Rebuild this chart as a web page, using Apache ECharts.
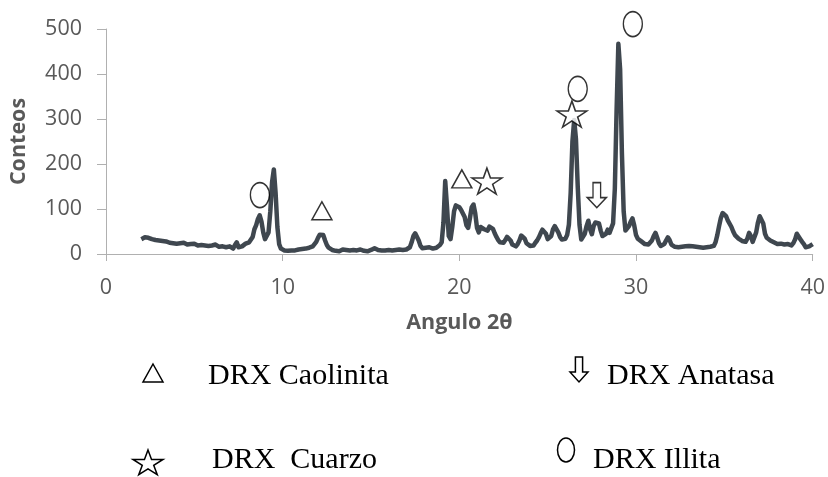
<!DOCTYPE html>
<html>
<head>
<meta charset="utf-8">
<script src="https://cdn.jsdelivr.net/npm/echarts@6/dist/echarts.min.js"></script>
<style>
html,body{margin:0;padding:0;background:#fff;}
#chart{width:828px;height:477px;}
</style>
</head>
<body>
<div id="chart"></div>
<script>
// ---- data ----
const xTicks = [0, 10, 20, 30, 40];
const yTicks = [0, 100, 200, 300, 400, 500];
const xAxisTitle = 'Angulo 2θ';
const yAxisTitle = 'Conteos';

// [2θ, counts]
const pattern = [
[2.0,33],[2.1,30],[2.2,37],[2.3,41],[2.4,36],[2.5,32],[2.6,33],[2.7,29],[2.8,31],[2.9,27],
[3.0,30],[3.1,28],[3.2,29],[3.3,26],[3.4,28],[3.5,27],[3.6,25],[3.7,28],[3.8,24],[3.9,26],
[4.0,23],[4.1,26],[4.2,24],[4.3,22],[4.4,25],[4.5,23],[4.6,21],[4.7,24],[4.8,22],[4.9,20],
[5.0,23],[5.1,21],[5.2,19],[5.3,22],[5.4,20],[5.5,24],[5.6,19],[5.7,21],[5.8,18],[5.9,22],
[6.0,19],[6.1,17],[6.2,21],[6.3,18],[6.4,16],[6.5,20],[6.6,17],[6.7,19],[6.8,15],[6.9,18],
[7.0,17],[7.1,14],[7.2,12],[7.3,20],[7.4,26],[7.5,15],[7.6,18],[7.7,17],[7.8,20],[7.9,23],
[8.0,25],[8.1,26],[8.2,29],[8.3,38],[8.4,55],[8.5,64],[8.6,78],[8.7,86],[8.8,72],[8.9,48],
[9.0,33],[9.1,35],[9.2,48],[9.3,95],[9.4,160],[9.5,188],[9.6,135],[9.7,60],[9.8,22],[9.9,12],
[10.0,9],[10.1,8],[10.2,10],[10.3,7],[10.4,9],[10.5,8],[10.6,11],[10.7,8],[10.8,9],[10.9,10],
[11.0,8],[11.1,11],[11.2,9],[11.3,12],[11.4,10],[11.5,14],[11.6,15],[11.7,17],[11.8,20],[11.9,27],
[12.0,36],[12.1,43],[12.2,47],[12.3,42],[12.4,30],[12.5,20],[12.6,14],[12.7,11],[12.8,9],[12.9,8],
[13.0,7],[13.1,9],[13.2,6],[13.3,8],[13.4,10],[13.5,7],[13.6,9],[13.7,6],[13.8,8],[13.9,7],
[14.0,9],[14.1,6],[14.2,8],[14.3,7],[14.4,10],[14.5,8],[14.6,7],[14.7,9],[14.8,6],[14.9,8],
[15.0,9],[15.1,11],[15.2,13],[15.3,12],[15.4,9],[15.5,7],[15.6,8],[15.7,6],[15.8,8],[15.9,7],
[16.0,9],[16.1,7],[16.2,8],[16.3,6],[16.4,9],[16.5,8],[16.6,10],[16.7,7],[16.8,9],[16.9,8],
[17.0,10],[17.1,12],[17.2,15],[17.3,26],[17.4,40],[17.5,46],[17.6,42],[17.7,30],[17.8,18],[17.9,13],
[18.0,12],[18.1,14],[18.2,11],[18.3,15],[18.4,13],[18.5,12],[18.6,16],[18.7,14],[18.8,17],[18.9,20],
[19.0,26],[19.1,70],[19.2,162],[19.3,105],[19.4,40],[19.5,33],[19.6,60],[19.7,95],[19.8,108],[19.9,110],
[20.0,104],[20.1,98],[20.2,100],[20.3,82],[20.4,64],[20.5,58],[20.6,80],[20.7,104],[20.8,110],[20.9,90],
[21.0,58],[21.1,48],[21.2,60],[21.3,63],[21.4,55],[21.5,59],[21.6,52],[21.7,61],[21.8,63],[21.9,56],
[22.0,46],[22.1,38],[22.2,31],[22.3,26],[22.4,22],[22.5,25],[22.6,31],[22.7,38],[22.8,41],[22.9,30],
[23.0,21],[23.1,19],[23.2,17],[23.3,22],[23.4,30],[23.5,41],[23.6,45],[23.7,34],[23.8,24],[23.9,20],
[24.0,18],[24.1,21],[24.2,19],[24.3,25],[24.4,30],[24.5,37],[24.6,46],[24.7,54],[24.8,56],[24.9,45],
[25.0,33],[25.1,30],[25.2,40],[25.3,55],[25.4,62],[25.5,60],[25.6,48],[25.7,38],[25.8,32],[25.9,30],
[26.0,34],[26.1,42],[26.2,65],[26.3,135],[26.4,250],[26.5,298],[26.6,255],[26.7,150],[26.8,65],[26.9,32],
[27.0,28],[27.1,45],[27.2,62],[27.3,74],[27.4,55],[27.5,44],[27.6,62],[27.7,70],[27.8,73],[27.9,68],
[28.0,52],[28.1,40],[28.2,37],[28.3,45],[28.4,54],[28.5,47],[28.6,50],[28.7,68],[28.8,145],[28.9,320],
[29.0,467],[29.1,410],[29.2,225],[29.3,95],[29.4,52],[29.5,50],[29.6,62],[29.7,72],[29.8,79],[29.9,63],
[30.0,42],[30.1,34],[30.2,30],[30.3,28],[30.4,26],[30.5,22],[30.6,24],[30.7,21],[30.8,25],[30.9,30],
[31.0,40],[31.1,47],[31.2,36],[31.3,24],[31.4,18],[31.5,19],[31.6,22],[31.7,30],[31.8,37],[31.9,31],
[32.0,21],[32.1,17],[32.2,16],[32.3,18],[32.4,15],[32.5,19],[32.6,16],[32.7,14],[32.8,17],[32.9,16],
[33.0,18],[33.1,15],[33.2,17],[33.3,14],[33.4,16],[33.5,18],[33.6,15],[33.7,17],[33.8,14],[33.9,16],
[34.0,15],[34.1,17],[34.2,16],[34.3,14],[34.4,18],[34.5,26],[34.6,42],[34.7,62],[34.8,80],[34.9,91],
[35.0,94],[35.1,84],[35.2,74],[35.3,71],[35.4,60],[35.5,50],[35.6,42],[35.7,38],[35.8,34],[35.9,31],
[36.0,29],[36.1,28],[36.2,27],[36.3,34],[36.4,47],[36.5,40],[36.6,27],[36.7,31],[36.8,48],[36.9,70],
[37.0,84],[37.1,86],[37.2,68],[37.3,45],[37.4,36],[37.5,33],[37.6,30],[37.7,28],[37.8,26],[37.9,24],
[38.0,22],[38.1,20],[38.2,23],[38.3,19],[38.4,21],[38.5,18],[38.6,22],[38.7,20],[38.8,19],[38.9,24],
[39.0,32],[39.1,45],[39.2,42],[39.3,33],[39.4,27],[39.5,22],[39.6,15],[39.7,12],[39.8,17],[39.9,21],
[40.0,22]
];

// peak identification marks [2θ, counts]
const caolinitaMarks = [[12.22, 96], [20.14, 167]];
const cuarzoMarks    = [[21.56, 162], [26.37, 311]];
const anatasaMarks   = [[27.78, 131]];
const illitaMarks    = [[8.71, 131], [26.70, 367], [29.82, 511]];

const legendLabels = ['DRX Caolinita', 'DRX Anatasa', 'DRX  Cuarzo', 'DRX Illita'];

// ---- chart ----
const STAR_PTS = [[50,0],[61.8,36.3],[100,36.3],[69.1,58.8],[80.9,95.1],[50,72.6],[19.1,95.1],[30.9,58.8],[0,36.3],[38.2,36.3]];
const ARROW_PTS = [[30,0],[70,0],[70,60],[100,60],[50,100],[0,60],[30,60]];
const TRI_PTS = [[50,0],[100,100],[0,100]];
const toPath = pts => 'path://' + pts.map((p, i) => (i ? 'L' : 'M') + p[0] + ',' + p[1]).join(' ') + ' Z';
const boxPts = (pts, x, y, w, h) => pts.map(p => [x + p[0] / 100 * w, y + p[1] / 100 * h]);

const chart = echarts.init(document.getElementById('chart'), null, {renderer: 'canvas'});
const axisText = {color: '#595959', fontFamily: 'Open Sans', fontSize: 21.5};
const titleText = {color: '#595959', fontFamily: 'Open Sans', fontSize: 21.5, fontWeight: 'bold'};
const markStyle = {color: '#ffffff', borderColor: '#000000', borderWidth: 1.5};
const markHollow = {color: 'rgba(255,255,255,0)', borderColor: '#000000', borderWidth: 1.5};
const legendFont = {fontFamily: 'Liberation Serif', fontSize: 30, fill: '#000'};
const symStyle = {fill: '#fff', stroke: '#000', lineWidth: 1.5};

chart.setOption({
  animation: false,
  backgroundColor: '#ffffff',
  grid: {left: 106, right: 15, top: 29, bottom: 223, containLabel: false},
  xAxis: {
    type: 'value', min: xTicks[0], max: xTicks[xTicks.length - 1], interval: 10,
    name: xAxisTitle, nameLocation: 'middle', nameGap: 58,
    nameTextStyle: titleText,
    axisLine: {show: true, lineStyle: {color: '#b0b0b0', width: 1}},
    axisTick: {show: true, length: 7, lineStyle: {color: '#b0b0b0'}},
    axisLabel: Object.assign({margin: 23}, axisText),
    splitLine: {show: false}
  },
  yAxis: {
    type: 'value', min: yTicks[0], max: yTicks[yTicks.length - 1], interval: 100,
    name: yAxisTitle, nameLocation: 'middle', nameGap: 76, nameRotate: 90,
    nameTextStyle: titleText,
    axisLine: {show: true, lineStyle: {color: '#b0b0b0', width: 1}},
    axisTick: {show: true, length: 9, lineStyle: {color: '#b0b0b0'}},
    axisLabel: Object.assign({margin: 24}, axisText),
    splitLine: {show: false}
  },
  series: [
    {
      type: 'line', data: pattern, showSymbol: false, symbol: 'none', smooth: false,
      lineStyle: {color: '#3f474f', width: 4.5, join: 'round'}, z: 2
    },
    {type: 'scatter', data: caolinitaMarks, symbol: toPath(TRI_PTS), symbolSize: [20, 18], itemStyle: markStyle, clip: false, z: 5},
    {type: 'scatter', data: cuarzoMarks, symbol: toPath(STAR_PTS), symbolSize: [30, 26], itemStyle: markStyle, clip: false, z: 5},
    {type: 'scatter', data: anatasaMarks, symbol: toPath(ARROW_PTS), symbolSize: [19, 25], itemStyle: markStyle, clip: false, z: 5},
    {type: 'scatter', data: illitaMarks, symbol: 'circle', symbolSize: [19, 25], itemStyle: markHollow, clip: false, z: 5}
  ],
  graphic: [
    {type: 'polygon', shape: {points: boxPts(TRI_PTS, 143, 364, 20, 18)}, style: symStyle},
    {type: 'text', left: 208, top: 361, style: Object.assign({text: legendLabels[0]}, legendFont)},
    {type: 'polygon', shape: {points: boxPts(ARROW_PTS, 570, 357, 18, 25)}, style: symStyle},
    {type: 'text', left: 607, top: 361, style: Object.assign({text: legendLabels[1]}, legendFont)},
    {type: 'polygon', shape: {points: boxPts(STAR_PTS, 133, 450, 30, 26)}, style: symStyle},
    {type: 'text', left: 212, top: 445, style: Object.assign({text: legendLabels[2]}, legendFont)},
    {type: 'ellipse', shape: {cx: 566, cy: 450, rx: 8.5, ry: 12}, style: {fill: 'none', stroke: '#000', lineWidth: 1.5}},
    {type: 'text', left: 593, top: 445, style: Object.assign({text: legendLabels[3]}, legendFont)}
  ]
});
</script>
</body>
</html>
